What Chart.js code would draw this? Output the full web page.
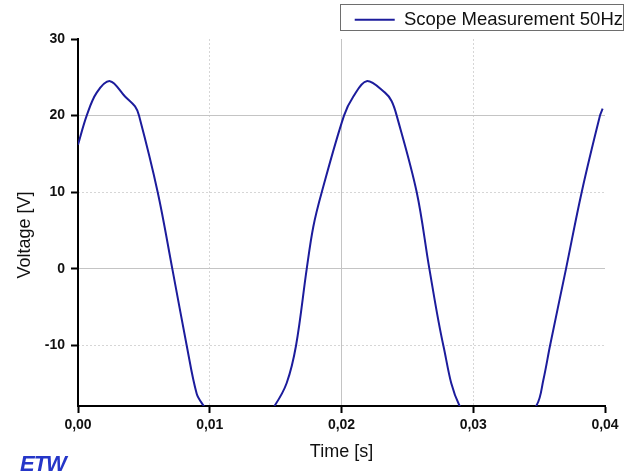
<!DOCTYPE html>
<html>
<head>
<meta charset="utf-8">
<title>Scope Measurement 50Hz</title>
<script src="https://cdn.jsdelivr.net/npm/chart.js@4.4.1/dist/chart.umd.min.js"></script>
<style>
  html, body { margin: 0; padding: 0; background: #fff; overflow: hidden; }
  .chart-box { position: relative; width: 631px; height: 475px; }
  .logo {
    position: absolute; left: 20px; top: 453px;
    font: italic bold 22px/22px "Liberation Sans", Arial, sans-serif;
    color: #2536c8; letter-spacing: -1px;
  }
</style>
</head>
<body>
<div class="chart-box">
  <canvas class="graph-holder" width="631" height="475"></canvas>
  <div class="logo">ETW</div>
</div>
<script>
// time in seconds, voltage in volts
const timeValues = [
  0.0000, 0.00066, 0.00142, 0.00243, 0.00357, 0.00433, 0.00463, 0.00605,
  0.00716, 0.00825, 0.00901, 0.00951, 0.0122,
  0.01495, 0.01584, 0.01655, 0.01736, 0.01786, 0.01850, 0.02019,
  0.0209, 0.02191, 0.0233, 0.0238, 0.02419, 0.02571, 0.02667, 0.02773,
  0.02894, 0.0319,
  0.03481, 0.03532, 0.03583, 0.03704, 0.03823, 0.03962, 0.03982
];
const voltageValues = [
  16.2, 20.0, 23.0, 24.5, 22.5, 21.2, 20.0, 10.0,
  0.0, -10.0, -16.3, -17.8, -24.5,
  -17.8, -14.9, -10.0, 0.0, 5.5, 10.0, 20.0,
  22.5, 24.5, 23.0, 21.9, 20.0, 10.0, 0.0, -10.0,
  -17.8, -24.5,
  -17.8, -14.5, -10.0, 0.0, 10.0, 20.0, 20.9
];

const seriesLabel = 'Scope Measurement 50Hz';
const xTickValues = [0, 0.01, 0.02, 0.03, 0.04];
const yTickValues = [-10, 0, 10, 20, 30];

const lineColor = '#1c1c9c';
const solidGrid = '#c4c4c4';
const dottedGrid = '#d6d6d6';

const near = (a, b) => Math.abs(a - b) < 1e-9;

Chart.defaults.font.family = '"Liberation Sans", Arial, sans-serif';
Chart.defaults.color = '#111';

// frame around the legend entry
const legendFrame = {
  id: 'legendFrame',
  afterDraw(chart) {
    const box = chart.legend.legendHitBoxes[0];
    if (!box) return;
    const ctx = chart.ctx;
    const mid = box.top + box.height / 2;
    ctx.save();
    ctx.strokeStyle = '#6e6e6e';
    ctx.lineWidth = 1;
    ctx.strokeRect(Math.round(box.left - 15) + 0.5, Math.round(mid - 16) + 0.5, Math.round(box.width + 15), 26);
    ctx.restore();
  }
};

const ctx = document.querySelector('.graph-holder').getContext('2d');

const data = {
  datasets: [{
    label: seriesLabel,
    data: timeValues.map((t, i) => ({ x: t, y: voltageValues[i] })),
    borderColor: lineColor,
    backgroundColor: lineColor,
    borderWidth: 2,
    pointRadius: 0,
    tension: 0.35,
    fill: false,
    clip: 0
  }]
};

const options = {
  responsive: false,
  animation: false,
  layout: { padding: 0 },
  plugins: {
    tooltip: { enabled: false },
    legend: {
      position: 'top',
      align: 'end',
      labels: {
        font: { size: 18.5 },
        color: '#111',
        boxWidth: 40,
        boxHeight: 2,
        padding: 8,
        generateLabels(chart) {
          return Chart.defaults.plugins.legend.labels.generateLabels(chart)
            .map(item => Object.assign(item, { lineWidth: 0, fillStyle: lineColor }));
        }
      }
    }
  },
  scales: {
    x: {
      type: 'linear',
      position: 'bottom',
      min: xTickValues[0],
      max: xTickValues[xTickValues.length - 1],
      ticks: {
        stepSize: 0.01,
        padding: 4,
        maxRotation: 0,
        font: { size: 14, weight: 'bold' },
        callback: v => Number(v).toFixed(2).replace('.', ',')
      },
      grid: {
        color: c => (c.tick && near(c.tick.value, 0.02)) ? solidGrid : 'transparent',
        tickColor: '#000',
        tickWidth: 2,
        tickLength: 7
      },
      border: { color: '#000', width: 2 },
      title: { display: true, text: 'Time [s]', font: { size: 18 }, padding: { top: 0, bottom: 12 } },
      afterFit(scale) {
        scale.height = 69;
        scale.paddingLeft = 0;
        scale.paddingRight = 26;
      }
    },
    xMinor: {
      type: 'linear',
      position: 'bottom',
      min: xTickValues[0],
      max: xTickValues[xTickValues.length - 1],
      ticks: { display: false, stepSize: 0.01 },
      grid: {
        color: c => (c.tick && (near(c.tick.value, 0.01) || near(c.tick.value, 0.03))) ? dottedGrid : 'transparent',
        drawTicks: false
      },
      border: { display: false, dash: [2, 2] },
      afterFit(scale) {
        scale.height = 0;
        scale.paddingLeft = 0;
        scale.paddingRight = 0;
      }
    },
    y: {
      type: 'linear',
      position: 'left',
      min: -17.9,
      max: yTickValues[yTickValues.length - 1],
      ticks: {
        stepSize: 10,
        includeBounds: false,
        padding: 6,
        font: { size: 14, weight: 'bold' }
      },
      grid: {
        color: c => (c.tick && (near(c.tick.value, 0) || near(c.tick.value, 20))) ? solidGrid : 'transparent',
        tickColor: '#000',
        tickWidth: 2,
        tickLength: 7
      },
      border: { color: '#000', width: 2 },
      title: { display: true, text: 'Voltage [V]     ', font: { size: 18 }, padding: { top: 14, bottom: 0 } },
      afterFit(scale) {
        scale.width = 78;
        scale.paddingTop = 39;
        scale.paddingBottom = 0;
      }
    },
    yMinor: {
      type: 'linear',
      position: 'left',
      min: -17.9,
      max: yTickValues[yTickValues.length - 1],
      ticks: { display: false, stepSize: 10, includeBounds: false },
      grid: {
        color: c => (c.tick && (near(c.tick.value, 10) || near(c.tick.value, -10))) ? dottedGrid : 'transparent',
        drawTicks: false
      },
      border: { display: false, dash: [2, 2] },
      afterFit(scale) {
        scale.width = 0;
        scale.paddingTop = 0;
        scale.paddingBottom = 0;
      }
    }
  }
};

const scopeChart = new Chart(ctx, {
  type: 'line',
  data: data,
  options: options,
  plugins: [legendFrame]
});
</script>
</body>
</html>
